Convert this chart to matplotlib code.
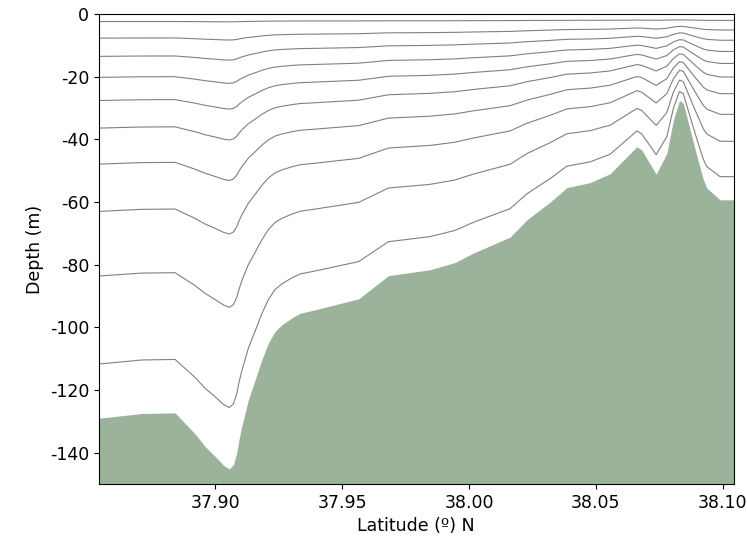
"""Secção batimétrica com níveis sigma (coordenada s tipo ROMS, Vtransform 1)."""
import matplotlib
matplotlib.use('Agg')
import matplotlib.pyplot as plt
import numpy as np

plt.rcParams['axes.unicode_minus'] = False

# ── Dados ────────────────────────────────────────────────────────────────
# batimetria (latitude ºN, profundidade m)
lat = [37.8541, 37.8710, 37.8841, 37.8920, 37.8959, 37.8999, 37.9033,
       37.9055, 37.9071, 37.9084, 37.9093, 37.9104, 37.9130, 37.9157,
       37.9183, 37.9209, 37.9235, 37.9262, 37.9301, 37.9334, 37.9393,
       37.9565, 37.9682, 37.9847, 37.9945, 38.0017, 38.0162, 38.0228,
       38.0320, 38.0386, 38.0478, 38.0530, 38.0556, 38.0662, 38.0681,
       38.0738, 38.0780, 38.0806, 38.0830, 38.0845, 38.0892, 38.0924,
       38.0938, 38.0990, 38.1043]
prof = [-129.0, -127.5, -127.3, -134.0, -138.0, -141.2, -144.1,
        -145.2, -143.8, -140.1, -135.9, -131.6, -123.1, -116.7,
        -110.3, -105.0, -101.3, -99.2, -97.0, -95.5, -94.4,
        -90.9, -83.5, -81.6, -79.3, -76.3, -71.2, -65.7,
        -60.0, -55.4, -53.8, -51.9, -51.0, -42.3, -43.4,
        -51.1, -44.4, -33.8, -27.6, -28.5, -43.4, -52.9,
        -55.6, -59.3, -59.3]

# parâmetros da grelha vertical (11 camadas -> 10 níveis interiores)
hc = 20.0
s_w = [-1/11, -2/11, -3/11, -4/11, -5/11, -6/11, -7/11, -8/11, -9/11, -10/11]
Cs_w = [-0.0053, -0.0372, -0.0739, -0.1186, -0.1698,
        -0.2339, -0.3227, -0.4445, -0.6169, -0.8580]

x = np.array(lat)
h = -np.array(prof)

# ── Figura ───────────────────────────────────────────────────────────────
fig = plt.figure(figsize=(7.47, 5.4), dpi=100)
ax = fig.add_axes([0.1325, 0.1037, 0.8495, 0.8703])

ax.fill_between(x, prof, -150, color='#9bb39b', linewidth=0)

for s, c in zip(s_w, Cs_w):
    z = hc * s + (h - hc) * c
    ax.plot(x, z, color='gray', linewidth=0.8)

ax.set_xlim(x[0], x[-1])
ax.set_ylim(-150, 0)
ax.set_xticks([37.90, 37.95, 38.00, 38.05, 38.10])
ax.set_xticklabels(['37.90', '37.95', '38.00', '38.05', '38.10'])
ax.tick_params(labelsize=12.5)
ax.set_xlabel('Latitude (º) N', fontsize=12.5)
ax.set_ylabel('Depth (m)', fontsize=12.5)

plt.savefig('out.png', dpi=100)
plt.close()
